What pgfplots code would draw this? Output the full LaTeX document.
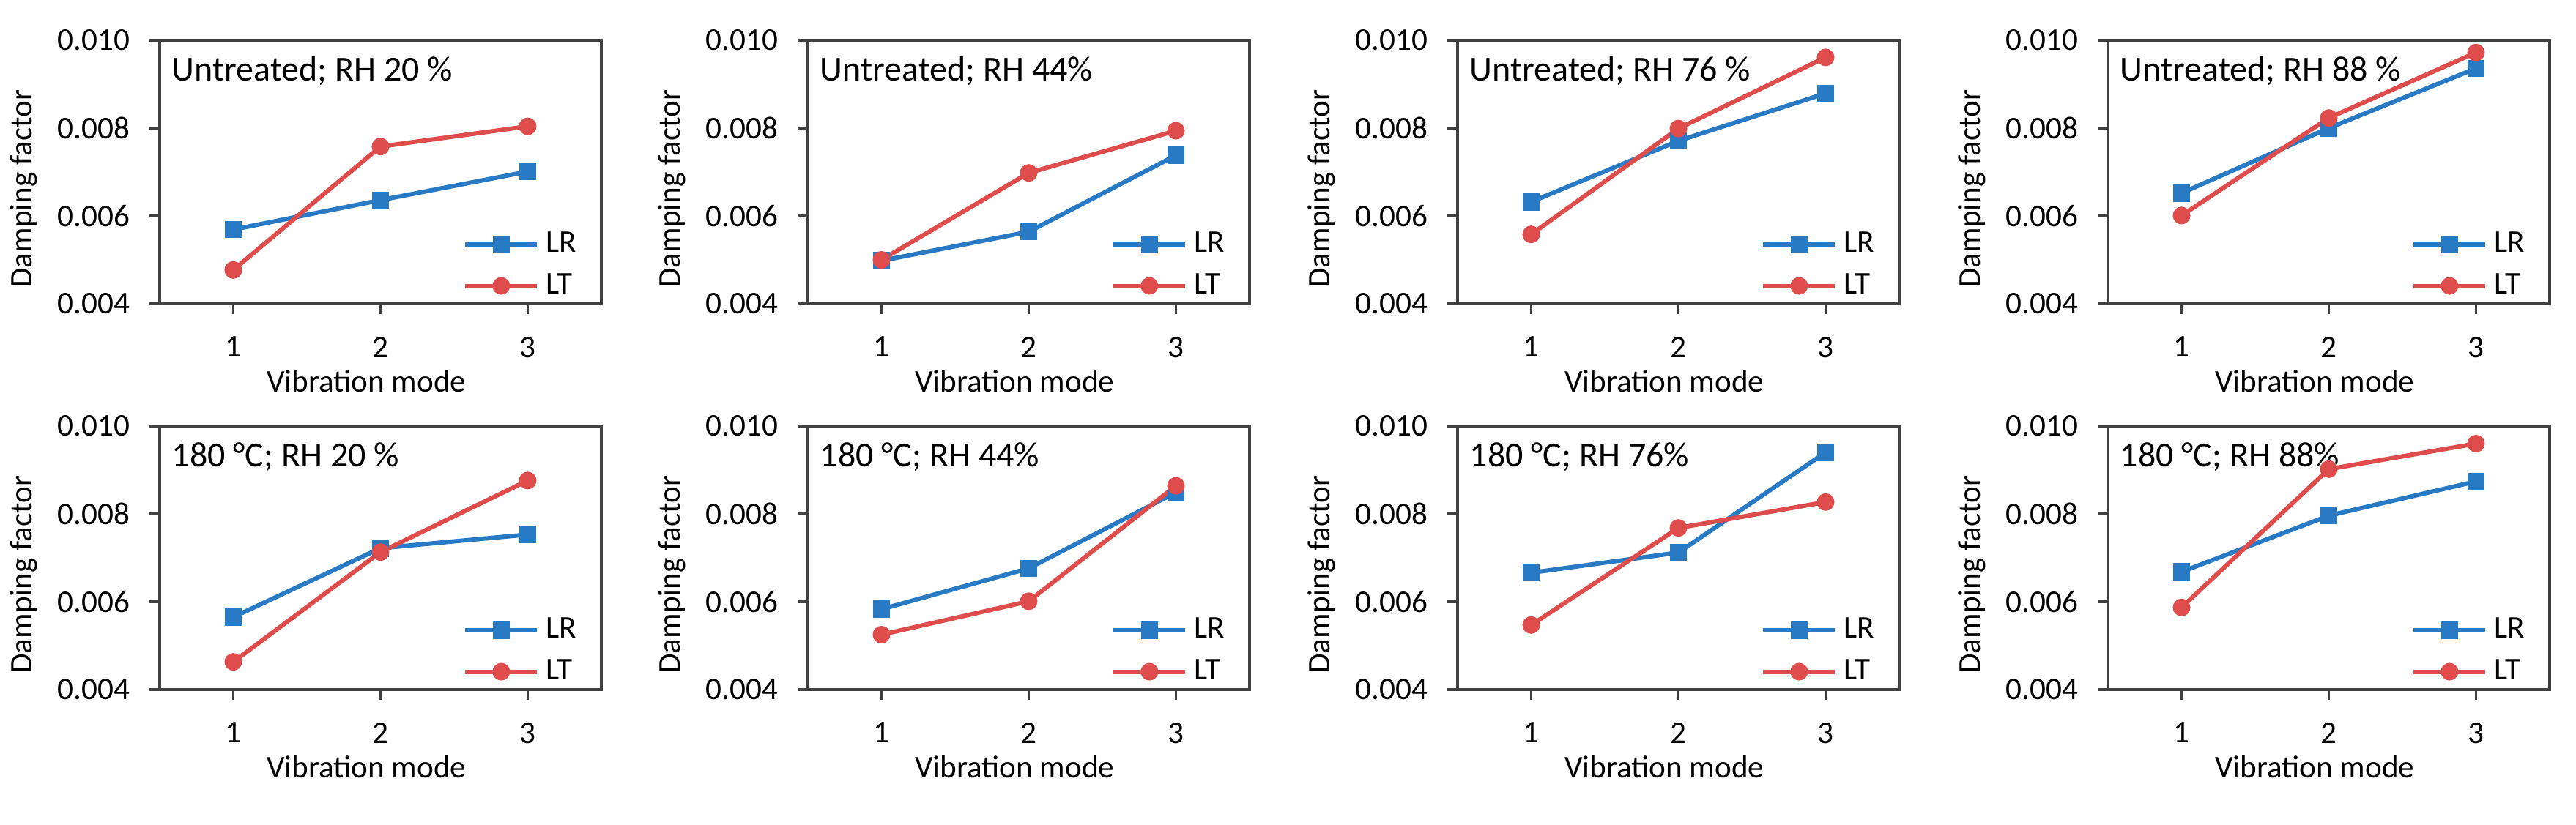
\documentclass[border=0pt]{standalone}
\usepackage{fontspec}
\setmainfont{Carlito}
\usepackage{pgfplots}
\usepackage{pgfplotstable}
\pgfplotsset{compat=1.18}
\definecolor{lrblue}{RGB}{40,122,196}
\definecolor{ltred}{RGB}{222,76,76}
\definecolor{axgray}{RGB}{64,64,64}

\pgfplotstableread{
mode LR LT
1 0.00569 0.00477
2 0.00636 0.00758
3 0.00701 0.00804
}\tUa
\pgfplotstableread{
mode LR LT
1 0.00498 0.00500
2 0.00564 0.00698
3 0.00738 0.00794
}\tUb
\pgfplotstableread{
mode LR LT
1 0.00632 0.00558
2 0.00771 0.00799
3 0.00879 0.00961
}\tUc
\pgfplotstableread{
mode LR LT
1 0.00652 0.00601
2 0.00800 0.00823
3 0.00936 0.00972
}\tUd
\pgfplotstableread{
mode LR LT
1 0.00565 0.00463
2 0.00722 0.00713
3 0.00753 0.00876
}\tTa
\pgfplotstableread{
mode LR LT
1 0.00583 0.00525
2 0.00676 0.00601
3 0.00849 0.00864
}\tTb
\pgfplotstableread{
mode LR LT
1 0.00666 0.00547
2 0.00712 0.00768
3 0.00940 0.00827
}\tTc
\pgfplotstableread{
mode LR LT
1 0.00668 0.00587
2 0.00796 0.00902
3 0.00874 0.00960
}\tTd

\pgfplotsset{
  panel/.style={
    width=150.75pt, height=90pt, scale only axis,
    anchor=north west,
    xmin=0.5, xmax=3.5, ymin=0.004, ymax=0.010,
    xtick={1,2,3}, ytick={0.004,0.006,0.008,0.010},
    scaled y ticks=false,
    /pgf/number format/assume math mode=true,
    y tick label style={/pgf/number format/fixed, /pgf/number format/fixed zerofill, /pgf/number format/precision=3, xshift=-3.2pt},
    x tick label style={yshift=-4.25pt},
    tick label style={font=\fontsize{10.8}{13}\selectfont},
    label style={font=\fontsize{10.8}{13}\selectfont},
    tick align=outside, tick pos=left,
    major tick length=3.5pt,
    axis line style={axgray, line width=0.9pt},
    every tick/.style={axgray, line width=0.9pt},
    xlabel={Vibration mode}, ylabel={Damping factor},
    xlabel style={at={(axis description cs:0.468,-0.336)}, anchor=base},
    ylabel style={at={(axis description cs:-0.2902,0.4377)}, anchor=base, rotate=0},
    legend style={draw=none, fill=none, at={(axis description cs:1,0)}, anchor=south east,
      xshift=-8.5pt, yshift=1.9pt, inner sep=0pt, outer sep=0pt, row sep=5.7pt, column sep=2.25pt,
      font=\fontsize{10.8}{13}\selectfont, nodes={inner sep=0pt}},
    legend cell align=left,
    legend image code/.code={\draw[mark repeat=2,mark phase=2,#1] plot coordinates {(0pt,0pt) (12.25pt,0pt) (24.5pt,0pt)};},
  },
  lrplot/.style={lrblue, line width=1.5pt, mark=square*, mark size=2.75pt, mark options={solid, fill=lrblue, draw=lrblue, line width=0.4pt}},
  ltplot/.style={ltred, line width=1.5pt, mark=*, mark size=2.8pt, mark options={solid, fill=ltred, draw=ltred, line width=0.4pt}},
}

\newcommand{\panel}[4]{%
  \begin{axis}[panel, at={(#1pt,#2pt)}]
    \addplot[lrplot] table[x=mode, y=LR] {#4};
    \addlegendentry{LR}
    \addplot[ltplot] table[x=mode, y=LT] {#4};
    \addlegendentry{LT}
    \node[anchor=base west, inner sep=0pt, font=\fontsize{12}{14}\selectfont] at (axis description cs:0.0265,0.847) {#3};
  \end{axis}%
}

\begin{document}
\begin{tikzpicture}
\panel{54.5}{-13.75}{Untreated; RH 20 \%}{\tUa}
\panel{275.75}{-13.75}{Untreated; RH 44\%}{\tUb}
\panel{497.5}{-13.75}{Untreated; RH 76 \%}{\tUc}
\panel{719.5}{-13.75}{Untreated; RH 88 \%}{\tUd}
\panel{54.5}{-145.5}{180 °C; RH 20 \%}{\tTa}
\panel{275.75}{-145.5}{180 °C; RH 44\%}{\tTb}
\panel{497.5}{-145.5}{180 °C; RH 76\%}{\tTc}
\panel{719.5}{-145.5}{180 °C; RH 88\%}{\tTd}
\pgfresetboundingbox
\useasboundingbox (0pt,0pt) rectangle (879.25pt,-281.5pt);
\end{tikzpicture}
\end{document}
